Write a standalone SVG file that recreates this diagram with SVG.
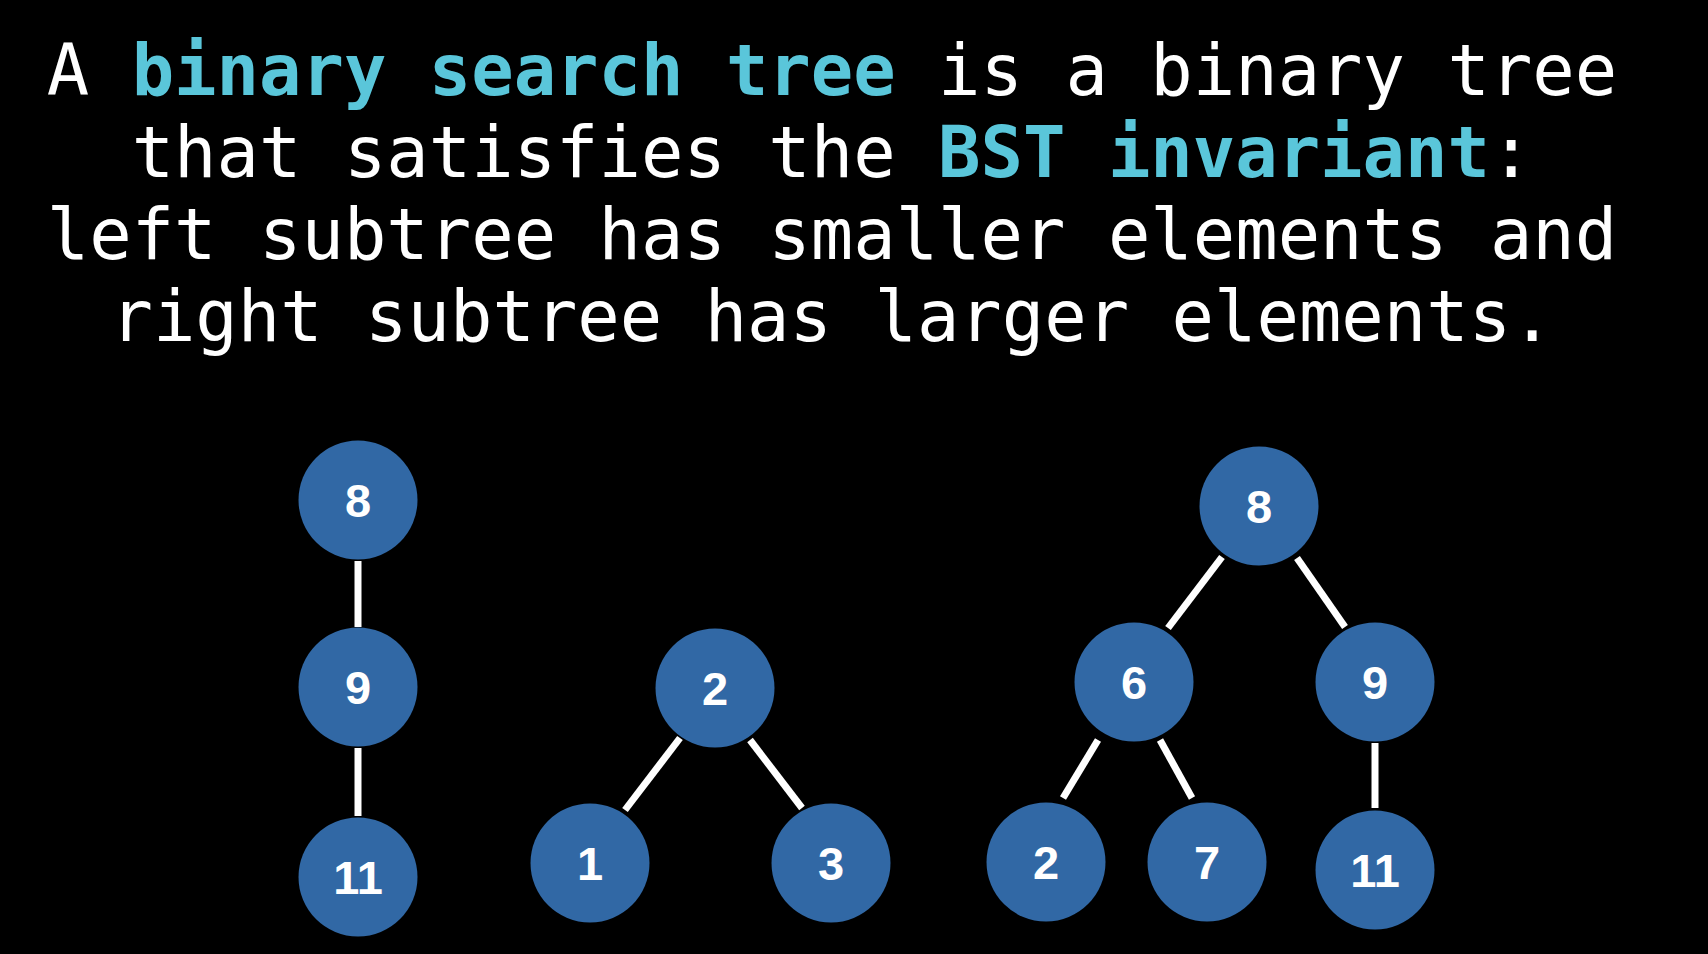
<svg xmlns="http://www.w3.org/2000/svg" width="1708" height="954" viewBox="0 0 1708 954">
<style>
.t{font-family:"DejaVu Sans Mono","Liberation Mono",monospace;font-size:70.5px;fill:#ffffff;text-anchor:middle}
.h{fill:#5ac6da;font-weight:bold}
.n{fill:#3168a5}
.l{font-family:"Liberation Sans",Arial,sans-serif;font-weight:bold;font-size:47px;fill:#ffffff;text-anchor:middle}
.e{stroke:#ffffff;stroke-width:7;fill:none}
</style>
<rect width="1708" height="954" fill="#000000"/>
<g id="title">
<text class="t" x="832" y="95">A <tspan class="h">binary search tree</tspan> is a binary tree</text>
<text class="t" x="832" y="177">that satisfies the <tspan class="h">BST invariant</tspan>:</text>
<text class="t" x="832" y="259">left subtree has smaller elements and</text>
<text class="t" x="832" y="341">right subtree has larger elements.</text>
</g>
<g id="connectors">
<line class="e" x1="358" y1="561" x2="358" y2="627"/>
<line class="e" x1="358" y1="748" x2="358" y2="816"/>
<line class="e" x1="680" y1="738" x2="625" y2="810"/>
<line class="e" x1="750" y1="740" x2="802" y2="808"/>
<line class="e" x1="1222" y1="557" x2="1168" y2="628"/>
<line class="e" x1="1297" y1="558" x2="1345" y2="627"/>
<line class="e" x1="1098" y1="740" x2="1063" y2="798"/>
<line class="e" x1="1160" y1="740" x2="1192" y2="798"/>
<line class="e" x1="1375" y1="743" x2="1375" y2="808"/>
</g>
<g id="t1-8"><circle class="n" cx="358" cy="500" r="59.5"/><text class="l" x="358" y="517">8</text></g>
<g id="t1-9"><circle class="n" cx="358" cy="687" r="59.5"/><text class="l" x="358" y="704">9</text></g>
<g id="t1-11"><circle class="n" cx="358" cy="877" r="59.5"/><text class="l" x="358" y="894">11</text></g>
<g id="t2-2"><circle class="n" cx="715" cy="688" r="59.5"/><text class="l" x="715" y="705">2</text></g>
<g id="t2-1"><circle class="n" cx="590" cy="863" r="59.5"/><text class="l" x="590" y="880">1</text></g>
<g id="t2-3"><circle class="n" cx="831" cy="863" r="59.5"/><text class="l" x="831" y="880">3</text></g>
<g id="t3-8"><circle class="n" cx="1259" cy="506" r="59.5"/><text class="l" x="1259" y="523">8</text></g>
<g id="t3-6"><circle class="n" cx="1134" cy="682" r="59.5"/><text class="l" x="1134" y="699">6</text></g>
<g id="t3-9"><circle class="n" cx="1375" cy="682" r="59.5"/><text class="l" x="1375" y="699">9</text></g>
<g id="t3-2"><circle class="n" cx="1046" cy="862" r="59.5"/><text class="l" x="1046" y="879">2</text></g>
<g id="t3-7"><circle class="n" cx="1207" cy="862" r="59.5"/><text class="l" x="1207" y="879">7</text></g>
<g id="t3-11"><circle class="n" cx="1375" cy="870" r="59.5"/><text class="l" x="1375" y="887">11</text></g>
</svg>
